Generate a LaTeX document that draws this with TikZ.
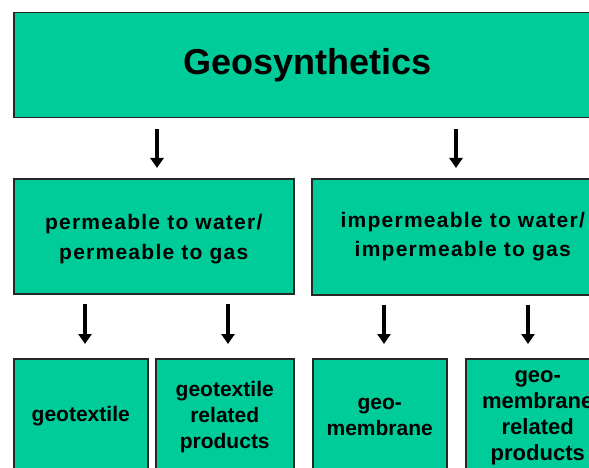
\documentclass[tikz,border=0pt]{standalone}
\usepackage{fontspec}
\setmainfont{Liberation Sans}
\usetikzlibrary{arrows.meta}
\definecolor{geo}{RGB}{0,204,153}
\begin{document}
\begin{tikzpicture}[x=1pt,y=1pt,
  box/.style={draw=black!85, line width=1.5pt, fill=geo, inner sep=0pt, anchor=north west, align=center},
  arr/.style={line width=3.2pt, -{Triangle[width=13pt,length=10pt]}},
  midfont/.style={font=\fontsize{21}{29.5}\selectfont\bfseries\addfontfeature{LetterSpace=6}},
  lowfont/.style={font=\fontsize{21}{26}\selectfont\bfseries},
]
\useasboundingbox (0,0) rectangle (589,-468);
\clip (0,0) rectangle (589,-468);
\node[box, minimum width=587, minimum height=105, font=\fontsize{36}{40}\selectfont\bfseries] (top) at (13,-12) {Geosynthetics};
\node[box, midfont, minimum width=280, minimum height=115] (perm) at (13,-178) {\rule{0pt}{21pt}permeable to water/\\permeable to gas};
\node[box, midfont, minimum width=302, minimum height=116] (imp) at (311,-178) {impermeable to water/\\impermeable to gas};
\node[box, lowfont, minimum width=134, minimum height=114] (gt) at (13,-358) {geotextile};
\node[box, lowfont, minimum width=138, minimum height=116] (gtr) at (155,-358) {geotextile\\related\\products};
\node[box, lowfont, minimum width=134, minimum height=116] (gm) at (312,-358) {geo-\\membrane};
\node[box, font=\fontsize{22}{26}\selectfont\bfseries, minimum width=144, minimum height=118] (gmr) at (465,-358) {geo-\\membrane\\related\\products};
\coordinate (xa) at (157,0);
\coordinate (xb) at (456,0);
\coordinate (xc) at (85,0);
\coordinate (xd) at (228,0);
\coordinate (xe) at (384,0);
\coordinate (xf) at (528,0);
\draw[arr, shorten <=11pt, shorten >=10pt] (top.south -| xa) -- (perm.north -| xa);
\draw[arr, shorten <=11pt, shorten >=10pt] (top.south -| xb) -- (imp.north -| xb);
\draw[arr, shorten <=9pt, shorten >=14pt] (perm.south -| xc) -- (gt.north -| xc);
\draw[arr, shorten <=9pt, shorten >=14pt] (perm.south -| xd) -- (gtr.north -| xd);
\draw[arr, shorten <=9pt, shorten >=14pt] (imp.south -| xe) -- (gm.north -| xe);
\draw[arr, shorten <=9pt, shorten >=14pt] (imp.south -| xf) -- (gmr.north -| xf);
\end{tikzpicture}
\end{document}
